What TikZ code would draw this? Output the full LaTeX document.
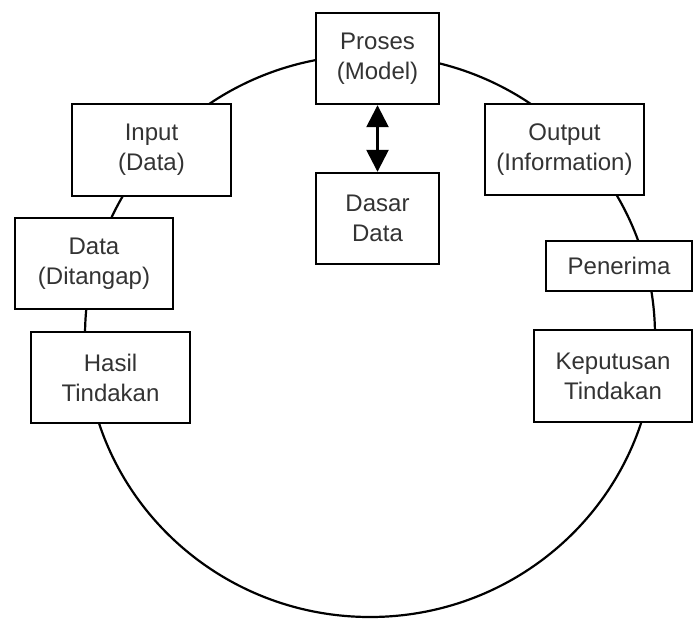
\documentclass[tikz,border=0pt]{standalone}
\usepackage{fontspec}
\setmainfont{Liberation Sans}
\usetikzlibrary{arrows.meta}
\definecolor{txt}{HTML}{333333}
\tikzset{
  box/.style={draw=black, line width=2.4pt, fill=white, rectangle, align=center,
    text=txt, font=\fontsize{24}{30}\selectfont, inner sep=0pt},
  ring/.style={draw=black, line width=2.2pt},
  link/.style={line width=2.6pt, {Triangle[width=22pt,length=22pt]}-{Triangle[width=22pt,length=22pt]}}
}
\begin{document}
\begin{tikzpicture}[x=1pt,y=-1pt]
\useasboundingbox (0,0) rectangle (695,620);
\draw[ring] (370,336) ellipse [x radius=285, y radius=281];
\node[box, minimum width=123pt, minimum height=91pt] (proses) at (377.5,58.5) {Proses\\(Model)};
\node[box, minimum width=123pt, minimum height=91pt] (dasar) at (377.5,218.5) {Dasar\\Data};
\node[box, minimum width=159pt, minimum height=92pt] (input) at (151.5,150) {Input\\(Data)};
\node[box, minimum width=158pt, minimum height=91pt] (ditangap) at (94,263.5) {Data\\(Ditangap)};
\node[box, minimum width=159pt, minimum height=91pt] (hasil) at (110.5,377.5) {Hasil\\Tindakan};
\node[box, minimum width=159pt, minimum height=91pt] (output) at (564.5,149.5) {Output\\(Information)};
\node[box, minimum width=146pt, minimum height=50pt] (penerima) at (619,266) {Penerima};
\node[box, minimum width=158pt, minimum height=92pt] (keputusan) at (613,376) {Keputusan\\Tindakan};
\draw[link] (proses) -- (dasar);
\end{tikzpicture}
\end{document}
